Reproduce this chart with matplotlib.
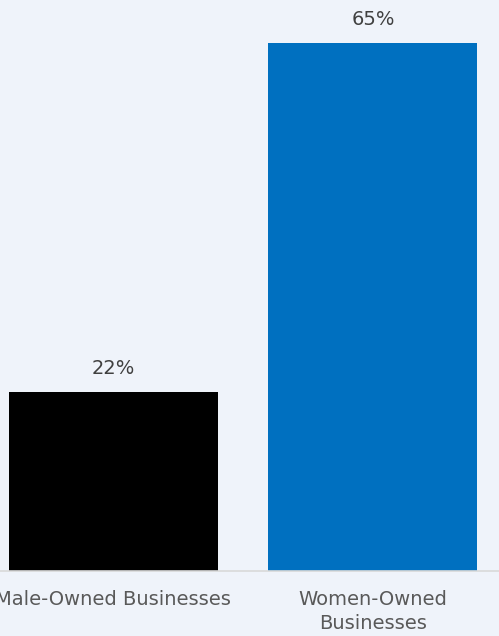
import matplotlib
matplotlib.use("Agg")
import matplotlib.pyplot as plt

categories = ["Male-Owned Businesses", "Women-Owned\nBusinesses"]
values = [22, 65]
value_labels = ["22%", "65%"]
colors = ["#000000", "#0070c0"]

bg = "#eff3fa"
plt.rcParams['font.family'] = ['DejaVu Sans']

fig = plt.figure(figsize=(4.99, 6.36), dpi=100, facecolor=bg)
ax = fig.add_axes([0, 65/636, 1, 571/636], facecolor=bg)

x = list(range(len(categories)))
bars = ax.bar(x, values, width=0.805, color=colors)
for xi, v, lab in zip(x, values, value_labels):
    ax.annotate(lab, (xi, v), xytext=(0, 10), textcoords="offset points",
                ha="center", va="bottom", fontsize=14, color="#404040")

ax.set_xlim(-0.437, 1.486)
ax.set_ylim(0, 70.3)
ax.set_xticks(x)
ax.set_xticklabels(categories, fontsize=14, color="#595959", linespacing=1.3)
ax.tick_params(axis="x", length=0, pad=14)
ax.set_yticks([])
for s in ["top", "left", "right"]:
    ax.spines[s].set_visible(False)
ax.spines["bottom"].set_color("#d9d9d9")
ax.spines["bottom"].set_linewidth(1.2)

fig.savefig("out.png", dpi=100, facecolor=bg)
